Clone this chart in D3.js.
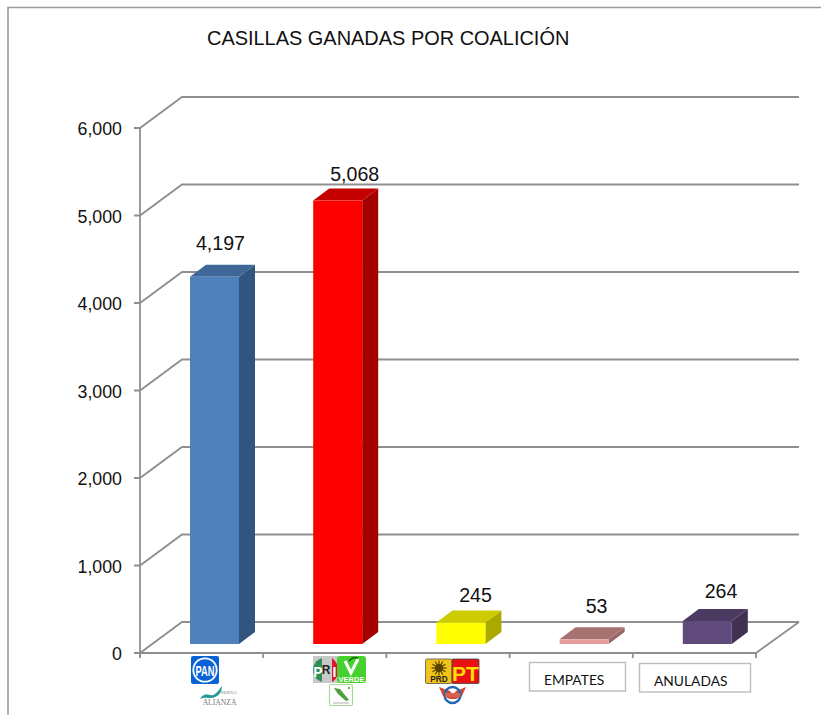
<!DOCTYPE html>
<html><head><meta charset="utf-8">
<script src="https://cdn.jsdelivr.net/npm/d3@7"></script>
<style>html,body{margin:0;padding:0;background:#fff;overflow:hidden}svg{display:block}</style>
</head><body><svg id="c" width="821" height="715"></svg>
<script>
const categories = ["PAN-NA","PRI-VERDE-AVE","PRD-PT-MC","EMPATES","ANULADAS"];
const values = [4197,5068,245,53,264];
const valueLabels = ["4,197","5,068","245","53","264"];
const yTicks = [0,1000,2000,3000,4000,5000,6000];
const frontColors = ["#4f81bd","#ff0000","#ffff00","#e59c9c","#604a7b"];
const topColors = ["#3f6797","#c40000","#cccc00","#a87272","#4b3a62"];
const sideColors = ["#325580","#a30000","#a9a900","#976868","#403153"];
const titleText = "CASILLAS GANADAS POR COALICIÓN";

const font = "'Liberation Sans',Arial,sans-serif";
const grid = "#8f8f8f";
const svg = d3.select("#c");
const x = d3.scaleBand().domain(categories).range([140,756]).paddingInner(0).paddingOuter(0);
const y = d3.scaleLinear().domain([0,6000]).range([653,128]);
const wall = {dx:42, dy:-31};
const bar = {dx:16, dy:-12, lift:9, w:49, gap:50};
const labelGap = [15,7.5,9,14,11];
const labelShift = [-2,9,6.6,4.5,5.7];

// outer frame
svg.append("path").attr("d","M8,715V7.5H821").attr("fill","none").attr("stroke","#9a9a9a").attr("stroke-width",1.6);

// title
svg.append("text").attr("x",207).attr("y",44.5).attr("font-family",font).attr("font-size",19.95).attr("fill","#111").text(titleText);

// walls and gridlines
const g = svg.append("g").attr("fill","none").attr("stroke",grid).attr("stroke-width",1.8);
yTicks.forEach(t=>{
  const p = y(t);
  g.append("path").attr("d",`M134,${p}H140L${140+wall.dx},${p+wall.dy}H799`);
});
g.append("path").attr("d",`M140,${y(6000)}V${y(0)+5}`);
g.append("path").attr("d",`M140,${y(0)}H756L799,${y(0)+wall.dy}`);
[...categories.map(c=>x(c)),756].forEach(px=>{
  g.append("path").attr("d",`M${px},${y(0)}V${y(0)+5}`);
});

// y labels
svg.append("g").selectAll("text").data(yTicks).join("text")
  .attr("x",122).attr("y",d=>y(d)+7.2).attr("text-anchor","end")
  .attr("font-family",font).attr("font-size",17.8).attr("fill","#111")
  .text(d3.format(","));

// bars
const bars = svg.append("g").selectAll("g").data(categories).join("g");
bars.each(function(c,i){
  const s = d3.select(this);
  const l = x(c)+bar.gap, r = l+bar.w;
  const b = y(0)-bar.lift, t = y(values[i])-bar.lift;
  s.append("path").attr("fill",sideColors[i])
    .attr("d",`M${r},${b}L${r+bar.dx},${b+bar.dy}V${t+bar.dy}L${r},${t}Z`);
  s.append("path").attr("fill",topColors[i])
    .attr("d",`M${l},${t}L${l+bar.dx},${t+bar.dy}H${r+bar.dx}L${r},${t}Z`);
  s.append("rect").attr("x",l).attr("y",t).attr("width",bar.w).attr("height",b-t).attr("fill",frontColors[i]);
  s.append("text").attr("x",l+bar.w/2+bar.dx/2+labelShift[i])
    .attr("y",t+bar.dy-labelGap[i]).attr("text-anchor","middle")
    .attr("font-family",font).attr("font-size",19.6).attr("fill","#111").text(valueLabels[i]);
});

// category label boxes
function box(x0,y0,w,h,label,tx,ty){
  svg.append("rect").attr("x",x0).attr("y",y0).attr("width",w).attr("height",h).attr("fill","#fff").attr("stroke","#bdbdbd").attr("stroke-width",1.4);
  svg.append("text").attr("x",tx).attr("y",ty).attr("font-family","Lato,'Open Sans',sans-serif").attr("font-size",13.8).attr("fill","#111").text(label);
}
box(529.5,662.5,96,28.5,"EMPATES",544,685);
box(639.5,663.5,111,28.5,"ANULADAS",654,686);

// party logos (small emblems under the axis)
const L = svg.append("g");
function t(p,xx,yy,str,size,fill,weight,fam,anchor){
  p.append("text").attr("x",xx).attr("y",yy).attr("font-size",size).attr("fill",fill)
   .attr("font-weight",weight||"bold").attr("font-family",fam||font).attr("text-anchor",anchor||"middle").text(str);
}
// PAN
L.append("rect").attr("x",191).attr("y",656).attr("width",28).attr("height",28).attr("rx",2).attr("fill","#0a63d6");
L.append("circle").attr("cx",205).attr("cy",670).attr("r",12.6).attr("fill","#fff");
L.append("circle").attr("cx",205).attr("cy",670).attr("r",10.8).attr("fill","#0a63d6");
L.append("text").attr("x",205).attr("y",675.5).attr("font-size",15).attr("fill","#fff").attr("font-weight","bold")
  .attr("font-family","'Liberation Sans Narrow','Liberation Sans',sans-serif").attr("text-anchor","middle")
  .attr("textLength",19).attr("lengthAdjust","spacingAndGlyphs").text("PAN");
// Nueva Alianza
L.append("path").attr("d","M200,699C205,690 210,698 215,694C219,691 220,688 222,686C222,693 217,698 211,698C206,698 204,697 200,699Z").attr("fill","#1f9c95");
t(L,228.5,694,"NUEVA",5,"#777","normal","'Liberation Serif',serif");
t(L,219.5,705,"ALIANZA",7.6,"#777","normal","'Liberation Serif',serif");
// PRI
L.append("rect").attr("x",313).attr("y",656).attr("width",25).attr("height",27).attr("fill","#c9c9c9");
L.append("path").attr("d","M322,658C316,660 313,665 313,670C313,675 316,680 322,682Z").attr("fill","#2f8f56");
L.append("path").attr("d","M332,658C336,661 338,665 338,670C338,675 336,680 332,682Z").attr("fill","#e0142a");
t(L,326,674,"R",12,"#222","bold",font);
t(L,318,677,"P",14,"#fff","bold",font);
t(L,334.5,677,"I",14,"#fff","bold",font);
// VERDE
L.append("rect").attr("x",337).attr("y",656).attr("width",29).attr("height",27).attr("rx",3).attr("fill","#47d12e");
L.append("path").attr("d","M345,661L351,673L358,659").attr("fill","none").attr("stroke","#fff").attr("stroke-width",3);
L.append("path").attr("d","M349,661Q353,656 358,658").attr("fill","none").attr("stroke","#1a5c1a").attr("stroke-width",1.5);
t(L,351.5,681.5,"VERDE",7.5,"#fff","bold",font);
// Alternativa Veracruzana
L.append("rect").attr("x",329.5).attr("y",684.5).attr("width",23).attr("height",21).attr("rx",1.5).attr("fill","#fff").attr("stroke","#a8d99a").attr("stroke-width",1.2);
L.append("path").attr("d","M334,688L340,689L349,700L346,701L338,694Z").attr("fill","#4d9e3c");
L.append("path").attr("d","M333,703H349").attr("stroke","#999").attr("stroke-width",0.8);
L.append("circle").attr("cx",349).attr("cy",688).attr("r",1).attr("fill","#3a8f2c");
// PRD
L.append("rect").attr("x",425.5).attr("y",659).attr("width",26.5).attr("height",24.5).attr("rx",1.5).attr("fill","#f0c419").attr("stroke","#555").attr("stroke-width",0.8);
L.append("g").selectAll("line").data(d3.range(12)).join("line")
  .attr("x1",439).attr("y1",668).attr("x2",439).attr("y2",660.5)
  .attr("transform",d=>`rotate(${d*30} 439 668)`).attr("stroke","#5a4300").attr("stroke-width",1.2);
L.append("circle").attr("cx",439).attr("cy",668).attr("r",4).attr("fill","#5a4300");
t(L,439,682,"PRD",8.2,"#222","bold",font);
// PT
L.append("rect").attr("x",452).attr("y",659).attr("width",27).attr("height",24.5).attr("rx",1).attr("fill","#e81010").attr("stroke","#444").attr("stroke-width",0.8);
t(L,465.5,680.5,"PT",21,"#ffe000","bold",font);
// Movimiento Ciudadano emblem
L.append("path").attr("d","M439,687L450,691L453,695L456,691L466,687L462,696L456,699H450L443,696Z").attr("fill","#cf4a3a");
L.append("circle").attr("cx",452.5).attr("cy",695).attr("r",8).attr("fill","none").attr("stroke","#2468b4").attr("stroke-width",2.4);
L.append("rect").attr("x",445).attr("y",693).attr("width",15).attr("height",4).attr("fill","#d9634f");
</script></body></html>
